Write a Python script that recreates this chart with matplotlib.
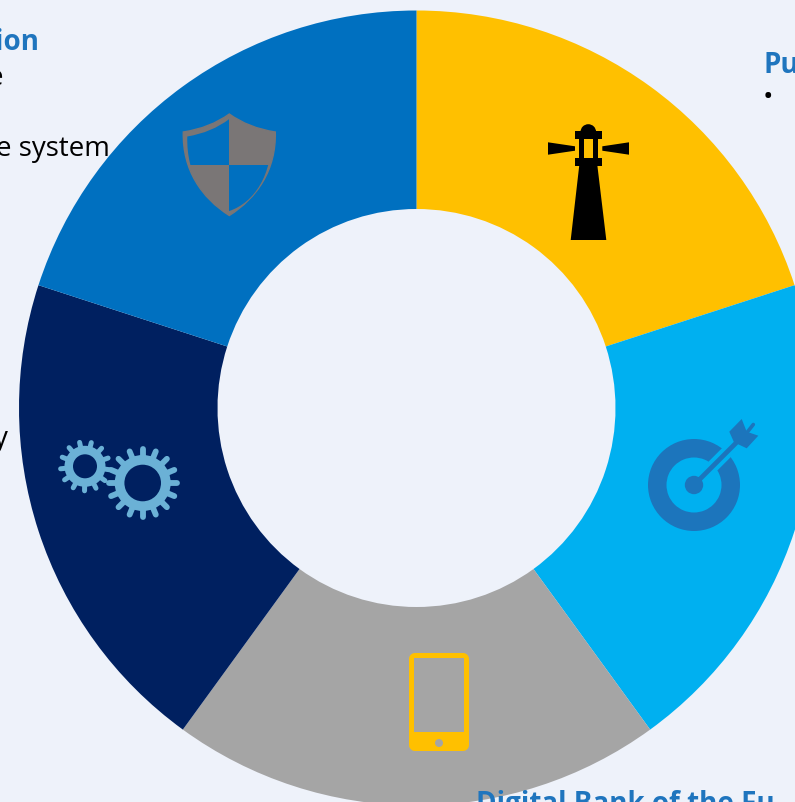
import matplotlib
matplotlib.use("Agg")
import matplotlib.pyplot as plt
import numpy as np
from matplotlib.patches import Circle, FancyBboxPatch, PathPatch, Polygon, Rectangle, Wedge
from matplotlib.path import Path

W, H = 795, 803

# five equal segments, clockwise from the top
segments = ["Purpose", "Target", "Digital Bank of the Future", "Operations", "Protection"]
shares = [20, 20, 20, 20, 20]
seg_colors = ["#FFC000", "#00B0F0", "#A5A5A5", "#002060", "#0070C0"]

BG = "#EEF2FA"
TITLE_BLUE = "#1F75BE"
ICON_BLUE = "#1C75BC"
GEAR_BLUE = "#6BB1D6"
SHIELD_GREY = "#7A7676"

plt.rcParams["font.family"] = ["Open Sans", "DejaVu Sans"]


def py(y):
    # picture rows run downwards, the axes run upwards
    return H - y


def pts(points):
    return [(x, py(y)) for x, y in points]


def poly(points, color, z=3):
    ax.add_patch(Polygon(pts(points), closed=True, fc=color, ec="none", zorder=z))


def rect(x0, y0, x1, y1, color, z=3):
    ax.add_patch(Rectangle((x0, py(y1)), x1 - x0, y1 - y0, fc=color, ec="none", zorder=z))


def ring(cx, cy, r_out, r_in, color, z=3):
    ax.add_patch(Wedge((cx, py(cy)), r_out, 0, 360, width=r_out - r_in, fc=color, ec="none", zorder=z))


def dot(cx, cy, r, color, z=3):
    ax.add_patch(Circle((cx, py(cy)), r, fc=color, ec="none", zorder=z))


def shield_path(cx, top, corner_dx, corner_y, bottom):
    verts = pts([
        (cx, top),
        (cx - corner_dx * 0.42, corner_y - 4), (cx - corner_dx, corner_y),
        (cx - corner_dx - 1, corner_y + 38), (cx - corner_dx * 0.6, corner_y + 66), (cx, bottom),
        (cx + corner_dx * 0.6, corner_y + 66), (cx + corner_dx + 1, corner_y + 38), (cx + corner_dx, corner_y),
        (cx + corner_dx * 0.42, corner_y - 4), (cx, top),
        (cx, top),
    ])
    codes = [Path.MOVETO, Path.CURVE3, Path.CURVE3, Path.CURVE4, Path.CURVE4, Path.CURVE4,
             Path.CURVE4, Path.CURVE4, Path.CURVE4, Path.CURVE3, Path.CURVE3, Path.CLOSEPOLY]
    return Path(verts, codes)


def draw_shield():
    cx = 229.3
    split = 165.7
    outer = PathPatch(shield_path(cx, 115, 46, 133, 216.5), fc=SHIELD_GREY, ec=SHIELD_GREY, lw=1, zorder=3)
    ax.add_patch(outer)
    for x0, y0, x1, y1 in [(170, 100, cx, split), (cx, split, 290, 230)]:
        inner = PathPatch(shield_path(cx, 120, 42, 137.5, 212), fc=seg_colors[4], ec="none", zorder=4)
        ax.add_patch(inner)
        clip = Rectangle((x0, py(y1)), x1 - x0, y1 - y0, transform=ax.transData)
        inner.set_clip_path(clip)


def draw_lighthouse():
    c = "black"
    poly([(579.3, 166), (597.3, 166), (606.3, 241), (570.7, 241)], c)
    rect(575, 159, 602, 167, c)
    rect(575, 132, 602, 140, c)
    rect(579.3, 139, 584, 160, c)
    rect(593.3, 139, 598, 160, c)
    ax.add_patch(Wedge((588.3, py(133)), 7.8, 0, 180, fc=c, ec="none", zorder=3))
    poly([(548, 143.3), (575, 147.3), (575, 151.7), (548, 155.7)], c)
    poly([(602.3, 147.3), (629, 143.3), (629, 155.7), (602.3, 151.7)], c)


def draw_target():
    cx, cy = 694, 486
    ring(cx, cy, 46, 27.5, ICON_BLUE)
    ax.plot([cx, 742], [py(cy), py(438)], color=seg_colors[1], lw=9, solid_capstyle="butt", zorder=4)
    dot(cx, cy, 9.2, ICON_BLUE, z=5)
    ax.plot([cx, 738], [py(cy), py(442)], color=ICON_BLUE, lw=3.4, solid_capstyle="butt", zorder=5)
    poly([(729.3, 432.7), (741.7, 420), (746.7, 432.7), (758.3, 436.7), (746.7, 449.3), (734, 443.3)], ICON_BLUE, z=5)
    ax.plot([747, 753.3], [py(433.5), py(425.5)], color=ICON_BLUE, lw=2.6, solid_capstyle="round", zorder=5)


def draw_gear(cx, cy, r_tip, r_root, r_hole, n_teeth, tooth_w, phase):
    ring(cx, cy, r_root, r_hole, GEAR_BLUE)
    for a in np.deg2rad(np.arange(n_teeth) * 360.0 / n_teeth + phase):
        x = [cx + (r_root - 1) * np.cos(a), cx + (r_tip - 1.5) * np.cos(a)]
        y = [py(cy + (r_root - 1) * np.sin(a)), py(cy + (r_tip - 1.5) * np.sin(a))]
        ax.plot(x, y, color=GEAR_BLUE, lw=tooth_w, solid_capstyle="round", zorder=3)


def draw_phone():
    c = seg_colors[0]
    ax.add_patch(FancyBboxPatch((414, py(747)), 50, 88, boxstyle="round,pad=0,rounding_size=1", fc=c, ec=c,
                                lw=7.2, zorder=3, joinstyle="round"))
    rect(414.3, 659.3, 464, 733.3, seg_colors[2], z=4)
    dot(439, 744, 4, seg_colors[2], z=4)


fig = plt.figure(figsize=(W / 100, H / 100), dpi=100, facecolor=BG)
ax = fig.add_axes([0, 0, 1, 1])
ax.pie(shares, colors=seg_colors, startangle=90, counterclock=False, center=(416.5, py(409)), radius=397.5,
       wedgeprops=dict(width=198.5, linewidth=0))
ax.set_xlim(0, W)
ax.set_ylim(0, H)
ax.set_aspect("equal")
ax.axis("off")

draw_shield()
draw_lighthouse()
draw_target()
draw_gear(85, 467.3, 26, 20.5, 12, 13, 3.6, 8)
draw_gear(142.7, 484, 35.7, 28, 18.3, 16, 4.2, 0)
draw_phone()

ax.text(39, py(50), "ion", color=TITLE_BLUE, fontsize=20, fontweight="bold", ha="right", va="baseline")
ax.text(3, py(85), "e", color="black", fontsize=20, ha="right", va="baseline")
ax.text(110, py(156), "e system", color="black", fontsize=20, ha="right", va="baseline")
ax.text(8, py(446), "y", color="black", fontsize=20, ha="right", va="baseline")
ax.text(764, py(73), "Pu", color=TITLE_BLUE, fontsize=20, fontweight="bold", ha="left", va="baseline")
ax.text(763, py(105), "•", color="black", fontsize=20, ha="left", va="baseline")
ax.text(476, py(812), "Digital Bank of the Fu", color=TITLE_BLUE, fontsize=20, fontweight="bold", ha="left", va="baseline")

fig.savefig("out.png", dpi=100, facecolor=BG)
